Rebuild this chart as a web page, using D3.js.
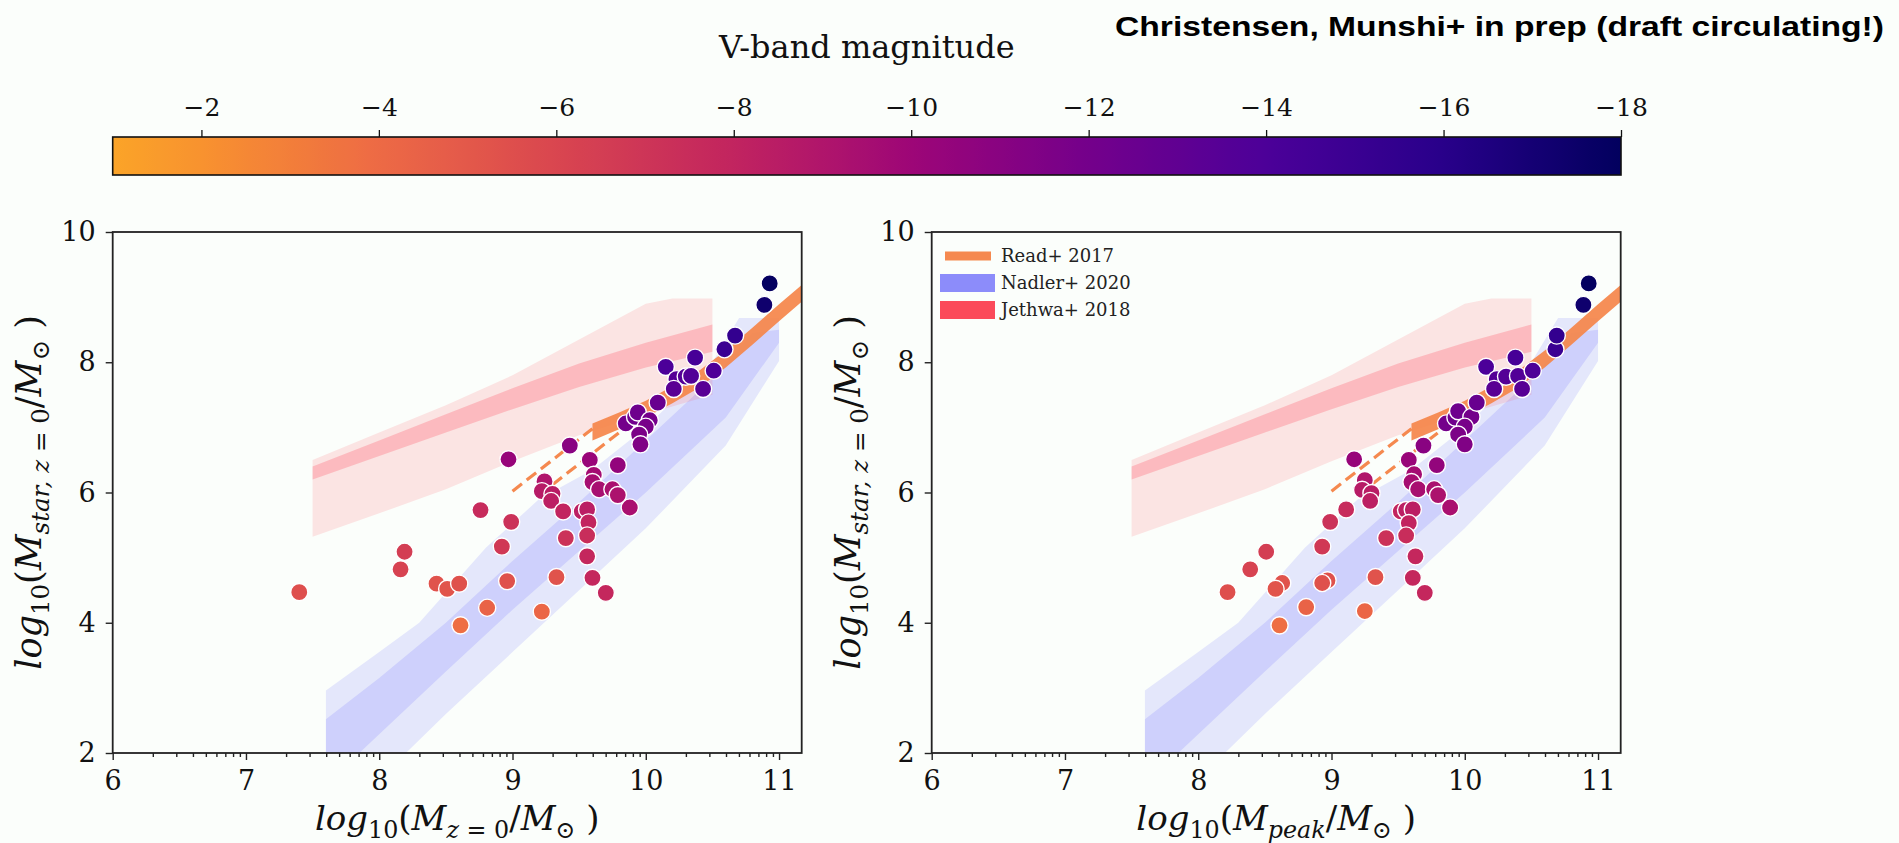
<!DOCTYPE html>
<html><head><meta charset="utf-8">
<script src="https://cdn.jsdelivr.net/npm/d3@7/dist/d3.min.js"></script>
<style>html,body{margin:0;padding:0;background:#fbfefb;}svg{display:block;}</style>
</head><body>
<svg id="chart" width="1899" height="843"></svg>
<script>
// ---------------- DATA ----------------
const xTicks = [6, 7, 8, 9, 10, 11];
const yTicks = [2, 4, 6, 8, 10];
const magTicks = [-2, -4, -6, -8, -10, -12, -14, -16, -18];
const magStops = [-1, -2, -4, -6, -8, -10, -12, -14, -16, -18];
const magColors = ["#fba428", "#f8922f", "#ed6a45", "#d9464f", "#c2245f", "#9d0677", "#74008b", "#4c0099", "#28008a", "#02005e"];

// Left panel: log10(M_z=0), log10(M_star), V magnitude
const leftX = [7.40, 8.19, 8.16, 8.43, 8.51, 8.60, 8.61, 8.81, 8.76, 8.99, 8.92, 8.96, 8.97, 9.22, 9.33, 9.24, 9.22, 9.30, 9.29, 9.38,
  9.43, 9.40, 9.52, 9.56, 9.57, 9.56, 9.56, 9.60, 9.70, 9.58, 9.61, 9.60, 9.65, 9.75, 9.79, 9.88, 9.79, 9.85, 9.92, 9.94,
  10.03, 10.00, 9.95, 9.96, 10.09, 10.15, 10.23, 10.30, 10.34, 10.21, 10.37, 10.43, 10.51, 10.59, 10.67, 10.89, 10.93];
const leftY = [4.47, 5.09, 4.82, 4.60, 4.52, 4.60, 3.96, 4.23, 5.73, 5.55, 5.17, 4.64, 6.51, 4.17, 4.70, 6.17, 6.02, 5.98, 5.87, 5.71,
  6.72, 5.30, 5.71, 5.74, 5.54, 5.34, 5.02, 4.69, 4.46, 6.50, 6.27, 6.16, 6.05, 6.05, 5.96, 5.77, 6.42, 7.06, 7.16, 7.23,
  7.11, 7.01, 6.89, 6.74, 7.38, 7.93, 7.74, 7.78, 7.79, 7.59, 8.07, 7.59, 7.87, 8.20, 8.41, 8.88, 9.21];
const leftMag = [-5.5, -6.5, -6.2, -5.3, -5.2, -5.4, -3.8, -4.4, -7.6, -7.2, -6.8, -5.4, -10.3, -4.2, -5.3, -9.0, -8.6, -8.5, -8.3, -8.0,
  -11.0, -7.2, -8.3, -8.4, -8.0, -7.5, -7.8, -7.8, -7.8, -10.2, -9.6, -9.5, -9.4, -9.3, -9.2, -9.3, -10.5, -12.0, -12.2, -12.3,
  -12.0, -11.8, -11.6, -11.4, -12.6, -14.0, -13.6, -13.6, -13.7, -13.3, -14.3, -13.4, -13.9, -15.0, -15.4, -17.3, -17.9];

// Right panel: log10(M_peak), log10(M_star), V magnitude
const rightX = [8.22, 8.51, 8.39, 8.63, 8.58, 8.97, 8.93, 8.61, 8.81, 9.11, 8.99, 8.93, 9.17, 9.25, 9.33, 9.25, 9.23, 9.30, 9.29, 9.52,
  9.56, 9.61, 9.69, 9.41, 9.58, 9.56, 9.63, 9.61, 9.70, 9.58, 9.62, 9.60, 9.65, 9.77, 9.80, 9.89, 9.79, 9.86, 9.93, 9.95,
  10.05, 10.00, 9.95, 10.00, 10.09, 10.16, 10.24, 10.31, 10.40, 10.22, 10.38, 10.43, 10.51, 10.68, 10.69, 10.89, 10.93];
const rightY = [4.47, 5.09, 4.82, 4.61, 4.52, 4.65, 4.61, 3.96, 4.24, 5.74, 5.55, 5.17, 6.51, 4.18, 4.70, 6.19, 6.04, 5.99, 5.87, 5.71,
  5.73, 5.74, 6.72, 5.30, 5.53, 5.34, 5.02, 4.69, 4.46, 6.50, 6.28, 6.16, 6.05, 6.05, 5.96, 5.77, 6.42, 7.06, 7.15, 7.25,
  7.16, 7.01, 6.89, 6.74, 7.38, 7.93, 7.74, 7.78, 7.79, 7.59, 8.07, 7.59, 7.87, 8.20, 8.41, 8.88, 9.21];
const rightMag = [-5.5, -6.5, -6.2, -5.3, -5.2, -5.4, -5.4, -3.8, -4.4, -7.6, -7.2, -6.8, -10.3, -4.2, -5.3, -9.0, -8.6, -8.5, -8.3, -8.0,
  -8.3, -8.4, -11.0, -7.2, -8.0, -7.5, -7.8, -7.8, -7.8, -10.2, -9.6, -9.5, -9.4, -9.3, -9.2, -9.3, -10.5, -12.0, -12.2, -12.3,
  -12.0, -11.8, -11.6, -11.4, -12.6, -14.0, -13.6, -13.6, -13.7, -13.3, -14.3, -13.4, -13.9, -15.0, -15.4, -17.3, -17.9];

// Jethwa+2018 bands
const jethwaOuterTop = [[7.5, 6.5], [8, 6.92], [8.5, 7.34], [9, 7.8], [9.5, 8.35], [10, 8.9], [10.2, 8.98], [10.5, 8.98]];
const jethwaOuterBot = [[7.5, 5.32], [8, 5.68], [8.5, 6.05], [9, 6.48], [9.5, 6.88], [10, 7.2], [10.5, 7.5]];
const jethwaInnerTop = [[7.5, 6.4], [8, 6.8], [8.5, 7.2], [9, 7.6], [9.5, 7.98], [10, 8.3], [10.5, 8.58]];
const jethwaInnerBot = [[7.5, 6.2], [8, 6.56], [8.5, 6.92], [9, 7.28], [9.5, 7.62], [10, 7.92], [10.5, 8.16]];
// Nadler+2020 bands
const nadlerOuterTop = [[7.6, 2.96], [8.0, 3.55], [8.3, 4.0], [8.8, 5.15], [9.2, 5.9], [9.6, 6.35], [10.0, 7.0], [10.5, 8.0], [10.7, 8.68], [11.0, 8.68]];
const nadlerOuterBot = [[7.6, 1.0], [8.2, 2.0], [8.5, 2.6], [9.0, 3.55], [9.5, 4.5], [10.0, 5.45], [10.6, 6.72], [11.0, 8.02]];
const nadlerInnerTop = [[7.6, 2.52], [8.0, 3.15], [8.5, 4.0], [9.0, 4.95], [9.5, 5.85], [10.0, 6.8], [10.5, 7.75], [10.8, 8.45], [11.0, 8.5]];
const nadlerInnerBot = [[7.6, 1.5], [7.85, 2.0], [8.5, 3.25], [9.0, 4.2], [9.5, 5.1], [10.0, 6.0], [10.6, 7.15], [11.0, 8.3]];
// Read+2017 band and dashed extrapolation
const readTop = [[9.6, 7.06], [9.8, 7.23], [10.0, 7.41], [10.2, 7.63], [10.4, 7.87], [10.6, 8.18], [10.8, 8.53], [11.0, 8.89], [11.2, 9.24]];
const readBot = [[9.6, 6.8], [9.8, 6.97], [10.0, 7.15], [10.2, 7.37], [10.4, 7.61], [10.6, 7.92], [10.8, 8.27], [11.0, 8.63], [11.2, 8.98]];
const readDashUpper = [[9.0, 6.02], [9.6, 6.98]];
const readDashLower = [[9.3, 6.12], [9.85, 7.0]];

const legendLabels = ["Read+ 2017", "Nadler+ 2020", "Jethwa+ 2018"];

// ---------------- DRAW ----------------
const svg = d3.select("#chart");
svg.append("rect").attr("width", 1899).attr("height", 843).attr("fill", "#fbfefb");

const serif = "'DejaVu Serif', serif";
const colorOf = d3.scaleLinear().domain(magStops).range(magColors).interpolate(d3.interpolateRgb);

// Colorbar
const cbX0 = 112.7, cbX1 = 1621, cbY0 = 137, cbY1 = 175;
const cx = d3.scaleLinear().domain([-1, -18]).range([cbX0, cbX1]);
const defs = svg.append("defs");
const grad = defs.append("linearGradient").attr("id", "cbgrad").attr("x1", "0%").attr("x2", "100%");
d3.range(0, 101).forEach(i => {
  const m = -1 - 17 * i / 100;
  grad.append("stop").attr("offset", i + "%").attr("stop-color", colorOf(m));
});
svg.append("rect").attr("x", cbX0).attr("y", cbY0).attr("width", cbX1 - cbX0).attr("height", cbY1 - cbY0)
  .attr("fill", "url(#cbgrad)").attr("stroke", "#111").attr("stroke-width", 1.6);
const cbAxis = d3.axisTop(cx).tickValues(magTicks).tickSize(7).tickPadding(14)
  .tickFormat(d => "\u2212" + Math.abs(d));
const cbG = svg.append("g").attr("transform", `translate(0,${cbY0})`).call(cbAxis);
cbG.select(".domain").remove();
cbG.selectAll("line").attr("stroke", "#111").attr("stroke-width", 1.3);
cbG.selectAll("text").attr("font-family", serif).attr("font-size", 25).attr("fill", "#111");

svg.append("text").attr("x", (cbX0 + cbX1) / 2).attr("y", 58).attr("text-anchor", "middle")
  .attr("font-family", serif).attr("font-size", 32).attr("fill", "#111").text("V-band magnitude");

svg.append("text").attr("x", 1884).attr("y", 36).attr("text-anchor", "end")
  .attr("font-family", "'Liberation Sans', Arial, sans-serif").attr("font-weight", "bold")
  .attr("font-size", 28).attr("fill", "#000").attr("textLength", 769).attr("lengthAdjust", "spacingAndGlyphs")
  .text("Christensen, Munshi+ in prep (draft circulating!)");

// math label helper
function mathLabel(g, parts, fs) {
  const t = g.append("text").attr("font-family", serif).attr("font-size", fs).attr("fill", "#111");
  let shifted = 0;
  parts.forEach(p => {
    const ts = t.append("tspan").text(p.t);
    ts.attr("font-style", p.i ? "italic" : "normal");
    const want = p.s ? 0.24 * fs : 0;
    if (want !== shifted) { ts.attr("dy", want - shifted); shifted = want; }
    if (p.s) ts.attr("font-size", fs * 0.7);
  });
  return t;
}

function panel(px0, xData, yData, magData, xLabelParts, showLegend, id) {
  const px1 = px0 + 689, py0 = 232, py1 = 753;
  const x = d3.scaleLinear().domain([6, 11.17]).range([px0, px1]);
  const y = d3.scaleLinear().domain([2, 10]).range([py1, py0]);
  const g = svg.append("g");
  defs.append("clipPath").attr("id", "clip" + id).append("rect")
    .attr("x", px0).attr("y", py0).attr("width", px1 - px0).attr("height", py1 - py0);
  const bands = g.append("g").attr("clip-path", `url(#clip${id})`);
  const line = d3.line().x(d => x(d[0])).y(d => y(d[1]));
  const poly = (top, bot) => line(top.concat(bot.slice().reverse())) + "Z";

  bands.append("path").attr("d", poly(nadlerOuterTop, nadlerOuterBot)).attr("fill", "#7f7fff").attr("fill-opacity", 0.18);
  bands.append("path").attr("d", poly(nadlerInnerTop, nadlerInnerBot)).attr("fill", "#7f7fff").attr("fill-opacity", 0.22);
  bands.append("path").attr("d", poly(jethwaOuterTop, jethwaOuterBot)).attr("fill", "#ff5060").attr("fill-opacity", 0.15);
  bands.append("path").attr("d", poly(jethwaInnerTop, jethwaInnerBot)).attr("fill", "#ff5060").attr("fill-opacity", 0.28);
  bands.append("path").attr("d", poly(readTop, readBot)).attr("fill", "#f5854a").attr("fill-opacity", 0.92);
  [readDashUpper, readDashLower].forEach(dl => {
    bands.append("path").attr("d", line(dl)).attr("fill", "none").attr("stroke", "#f5894f")
      .attr("stroke-width", 3.2).attr("stroke-dasharray", "12,6");
  });

  // points
  g.append("g").selectAll("circle").data(xData.map((v, i) => i)).join("circle")
    .attr("cx", i => x(xData[i])).attr("cy", i => y(yData[i])).attr("r", 8.6)
    .attr("fill", i => colorOf(magData[i])).attr("stroke", "#ffffff").attr("stroke-width", 1.4);

  // axes
  const xAxis = d3.axisBottom(x).tickValues(xTicks).tickSize(7).tickPadding(11).tickFormat(d3.format("d"));
  const xg = g.append("g").attr("transform", `translate(0,${py1})`).call(xAxis);
  const minor = [];
  [6, 7, 8, 9, 10].forEach(n => d3.range(2, 10).forEach(k => { const v = n + Math.log10(k); if (v <= 11.17) minor.push(v); }));
  const mg = g.append("g").attr("transform", `translate(0,${py1})`)
    .call(d3.axisBottom(x).tickValues(minor).tickSize(4).tickFormat(""));
  mg.select(".domain").remove();
  const yAxis = d3.axisLeft(y).tickValues(yTicks).tickSize(7).tickPadding(10).tickFormat(d3.format("d"));
  const yg = g.append("g").attr("transform", `translate(${px0},0)`).call(yAxis);
  [xg, yg, mg].forEach(a => {
    a.select(".domain").remove();
    a.selectAll("line").attr("stroke", "#222").attr("stroke-width", 1.4);
    a.selectAll("text").attr("font-family", serif).attr("font-size", 27).attr("fill", "#111");
  });
  g.append("rect").attr("x", px0).attr("y", py0).attr("width", px1 - px0).attr("height", py1 - py0)
    .attr("fill", "none").attr("stroke", "#222").attr("stroke-width", 1.8);

  // labels
  const xl = mathLabel(g, xLabelParts, 34);
  xl.attr("x", (px0 + px1) / 2).attr("y", 830).attr("text-anchor", "middle");
  const yl = mathLabel(g, [
    { t: "log", i: 1 }, { t: "10", s: 1 }, { t: "(" }, { t: "M", i: 1 }, { t: "star,", i: 1, s: 1 }, { t: " z", i: 1, s: 1 }, { t: " = 0", s: 1 },
    { t: "/" }, { t: "M", i: 1 }, { t: "\u2299", s: 1 }, { t: " )" }], 35);
  yl.attr("text-anchor", "middle").attr("transform", `translate(${px0 - 72},${(py0 + py1) / 2}) rotate(-90)`);

  if (showLegend) {
    const lg = g.append("g");
    lg.append("line").attr("x1", 945).attr("x2", 991).attr("y1", 256).attr("y2", 256)
      .attr("stroke", "#f5894f").attr("stroke-width", 9);
    lg.append("rect").attr("x", 940).attr("y", 274).attr("width", 55).attr("height", 18).attr("fill", "#8c8cfa");
    lg.append("rect").attr("x", 940).attr("y", 301).attr("width", 55).attr("height", 18).attr("fill", "#fb4a5a");
    legendLabels.forEach((l, i) => {
      lg.append("text").attr("x", 1001).attr("y", 262 + i * 27).attr("font-family", serif)
        .attr("font-size", 18).attr("fill", "#222").text(l);
    });
  }
}

panel(112.7, leftX, leftY, leftMag, [
  { t: "log", i: 1 }, { t: "10", s: 1 }, { t: "(" }, { t: "M", i: 1 }, { t: "z", i: 1, s: 1 }, { t: " = 0", s: 1 },
  { t: "/" }, { t: "M", i: 1 }, { t: "\u2299", s: 1 }, { t: " )" }], false, 1);
panel(931.7, rightX, rightY, rightMag, [
  { t: "log", i: 1 }, { t: "10", s: 1 }, { t: "(" }, { t: "M", i: 1 }, { t: "peak", i: 1, s: 1 },
  { t: "/" }, { t: "M", i: 1 }, { t: "\u2299", s: 1 }, { t: " )" }], true, 2);
</script>
</body></html>
